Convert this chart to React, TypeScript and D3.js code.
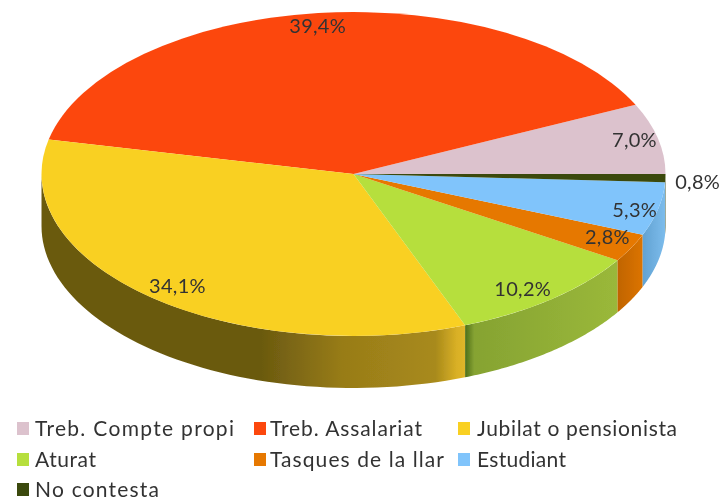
import React from "react";
import * as d3 from "d3";

const categories = ["Treb. Compte propi", "Treb. Assalariat", "Jubilat o pensionista", "Aturat", "Tasques de la llar", "Estudiant", "No contesta"];
const values = [7.0, 39.4, 34.1, 10.2, 2.8, 5.3, 0.8];
const valueLabels = ["7,0%", "39,4%", "34,1%", "10,2%", "2,8%", "5,3%", "0,8%"];
const topColors = ["#dcc2cd", "#fc4710", "#f9d024", "#b6df3c", "#e67800", "#80c4fb", "#3a4a0a"];
const wallStops: [number, string][][] = [
  [[0, "#b09aa3"], [1, "#b09aa3"]],
  [[0, "#b0300a"], [1, "#b0300a"]],
  [[0, "#6b5a10"], [0.52, "#6b5a10"], [0.71, "#987c18"], [0.93, "#a88a1c"], [0.98, "#d9b025"], [1, "#e0b62a"]],
  [[0, "#4e6f1a"], [0.06, "#86a332"], [1, "#9ab83a"]],
  [[0, "#c06400"], [1, "#dc7400"]],
  [[0, "#62a2d2"], [1, "#7cbcec"]],
  [[0, "#2c3808"], [1, "#2c3808"]],
];
const labelRadius = [0.9, 0.9, 0.91, 0.88, 0.9, 0.9, 1.11];
const labelNudgeX = [7, -4, 9, -5, 4, 7, -2];
const labelNudgeY = [-2, -3, 0, 5, -3, 5, 3];
const swatchColumns = [17, 254, 458];
const legendTextColumns = [35, 270, 477];
const legendRows = [429, 460, 490];
const legendWidths = [199, 152, 200, 61, 174, 89, 124];

const cx = 353.5, cy = 174, rx = 312, ry = 162, depth = 52;
const px = (a: number, r = 1) => cx + rx * r * Math.sin(a);
const py = (a: number, r = 1) => cy - ry * r * Math.cos(a);

export default function App() {
  const pie = d3.pie<number>().sort(null).startAngle(Math.PI / 2).endAngle(Math.PI / 2 - 2 * Math.PI);
  const arcs = pie(values);
  const arc = d3.arc<d3.PieArcDatum<number>>().innerRadius(0).outerRadius(rx);
  const walls = arcs.map((d, i) => {
    const lo = Math.min(d.startAngle, d.endAngle), hi = Math.max(d.startAngle, d.endAngle);
    let best: [number, number] | null = null;
    for (const k of [-1, 0, 1]) {
      const a = Math.max(lo + k * 2 * Math.PI, Math.PI / 2);
      const b = Math.min(hi + k * 2 * Math.PI, 1.5 * Math.PI);
      if (b > a) best = [a, b];
    }
    if (!best) return null;
    const [a, b] = best;
    const n = 60;
    const angles = d3.range(n + 1).map(j => a + ((b - a) * j) / n);
    const top = angles.map(t => [px(t), py(t)] as [number, number]);
    const bot = angles.slice().reverse().map(t => [px(t), py(t) + depth] as [number, number]);
    const xs = top.map(p => p[0]);
    return { i, path: d3.line()([...top, ...bot]) + "Z", x0: d3.min(xs)!, x1: d3.max(xs)! };
  });
  const font = "Lato, 'Open Sans', sans-serif";
  return (
    <svg width={723} height={500} style={{ position: "absolute", left: 0, top: 0, background: "#fff" }}>
      <defs>
        <filter id="soft" x="-5%" y="-5%" width="110%" height="110%"><feGaussianBlur stdDeviation="0.5" /></filter>
        {walls.map(w => w && (
          <linearGradient key={w.i} id={`w${w.i}`} gradientUnits="userSpaceOnUse" x1={w.x0} x2={w.x1} y1={0} y2={0}>
            {wallStops[w.i].map(([o, c], j) => <stop key={j} offset={o} stopColor={c} />)}
          </linearGradient>
        ))}
      </defs>
      <g filter="url(#soft)">
        {walls.map(w => w && <path key={w.i} d={w.path} fill={`url(#w${w.i})`} />)}
        <g transform={`translate(${cx},${cy}) scale(1,${ry / rx})`}>
          {arcs.map((d, i) => <path key={i} d={arc(d)!} fill={topColors[i]} />)}
        </g>
        {arcs.map((d, i) => {
          const m = (d.startAngle + d.endAngle) / 2;
          return (
            <text key={i} x={px(m, labelRadius[i]) + labelNudgeX[i]} y={py(m, labelRadius[i]) + 7 + labelNudgeY[i]} textAnchor="middle"
              fontFamily={font} fontSize={20} fill="#333" letterSpacing={0.3}>{valueLabels[i]}</text>
          );
        })}
        {categories.map((c, i) => {
          const col = i % 3;
          const y = legendRows[Math.floor(i / 3)];
          return (
            <g key={c}>
              <rect x={swatchColumns[col]} y={y - 7} width={12} height={13} fill={topColors[i]} />
              <text x={legendTextColumns[col]} y={y + 7} fontFamily={font} fontSize={21} textLength={legendWidths[i]} lengthAdjust="spacing" fill="#333">{c}</text>
            </g>
          );
        })}
      </g>
    </svg>
  );
}
